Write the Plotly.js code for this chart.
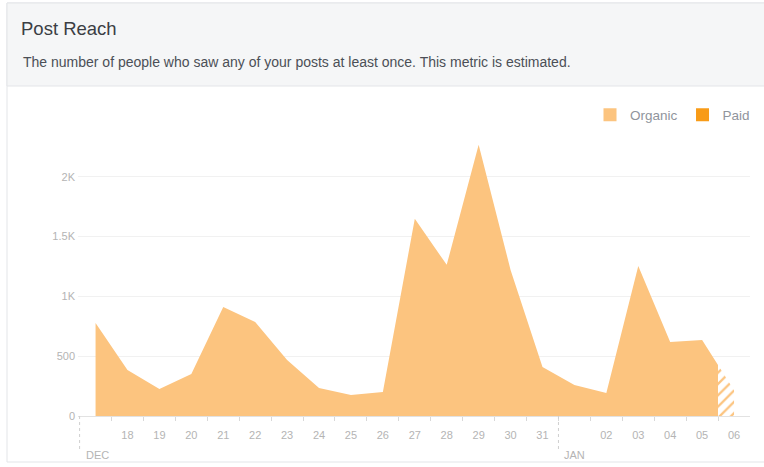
<!DOCTYPE html>
<html>
<head>
<meta charset="utf-8">
<script src="https://cdn.plot.ly/plotly-3.0.1.min.js"></script>
<style>
  html, body { margin: 0; padding: 0; background: #ffffff; }
  #chart { width: 764px; height: 467px; }
</style>
</head>
<body>
<div id="chart"></div>
<script>
// ---- data ----
var days = ['17','18','19','20','21','22','23','24','25','26','27','28','29','30','31',
            '01','02','03','04','05','06'];
var months = ['DEC', 'JAN'];
var organic = [778, 385, 226, 351, 912, 787, 469, 234, 176, 201, 1649, 1264, 2268, 1222, 410,
               259, 192, 1255, 619, 636, 215];
var paid = [0,0,0,0,0,0,0,0,0,0,0,0,0,0,0,0,0,0,0,0,0];
var yTickVals = [0, 500, 1000, 1500, 2000];
var yTickText = ['0', '500', '1K', '1.5K', '2K'];
var seriesNames = ['Organic', 'Paid'];

// ---- styles ----
var organicColor = '#fcc47f';
var paidColor = '#f89b17';
var tickFontColor = '#b4b4b4';
var fontFamily = 'Liberation Sans, Arial, sans-serif';

var idx = days.map(function (d, i) { return i; });
// month starts: first day, and every day labelled '01'
var monthStarts = idx.filter(function (i) { return i === 0 || days[i] === '01'; });
var labelIdx = idx.filter(function (i) { return monthStarts.indexOf(i) < 0 && i < days.length - 1; });
var boundaries = idx.slice(1).map(function (i) { return i - 0.5; });

var xMin = -0.55, xMax = days.length - 0.5;
var todayEdge = days.length - 1.5;          // start of the partial (estimated) last day
var split = (todayEdge - xMin) / (xMax - xMin);

var traces = [
  { x: idx, y: organic, xaxis: 'x', yaxis: 'y', type: 'scatter', mode: 'none',
    fill: 'tozeroy', fillcolor: organicColor, showlegend: false, hoverinfo: 'skip' },
  { x: idx, y: paid, xaxis: 'x', yaxis: 'y', type: 'scatter', mode: 'none',
    fill: 'tozeroy', fillcolor: paidColor, showlegend: false, hoverinfo: 'skip' },
  { x: idx, y: organic, xaxis: 'x2', yaxis: 'y', type: 'scatter', mode: 'none',
    fill: 'tozeroy', fillcolor: 'rgba(0,0,0,0)',
    fillpattern: { shape: '/', fgcolor: organicColor, bgcolor: '#ffffff', size: 8, solidity: 0.28 },
    showlegend: false, hoverinfo: 'skip' },
  { x: [null], y: [null], type: 'scatter', mode: 'markers', name: seriesNames[0],
    marker: { symbol: 'square', size: 13, color: organicColor } },
  { x: [null], y: [null], type: 'scatter', mode: 'markers', name: seriesNames[1],
    marker: { symbol: 'square', size: 13, color: paidColor } }
];

var ml = 78, mr = 14, mt = 135, mb = 51, W = 764, H = 467;
var pw = W - ml - mr, ph = H - mt - mb;
function px2x(px) { return (px - ml) / pw; }
function py2y(py) { return (H - mb - py) / ph; }

var shapes = [
  { type: 'rect', xref: 'paper', yref: 'paper', layer: 'below',
    x0: px2x(7), x1: px2x(775), y0: py2y(462), y1: py2y(3),
    fillcolor: '#ffffff', line: { color: '#e3e5e8', width: 1 } },
  { type: 'rect', xref: 'paper', yref: 'paper', layer: 'below',
    x0: px2x(7), x1: px2x(775), y0: py2y(86), y1: py2y(3),
    fillcolor: '#f5f6f7', line: { color: '#e3e5e8', width: 1 } }
];
var annotations = [
  { xref: 'paper', yref: 'paper', x: px2x(20.5), y: py2y(62), xanchor: 'left', yanchor: 'middle',
    showarrow: false, text: 'The number of people who saw any of your posts at least once. This metric is estimated.',
    font: { family: fontFamily, size: 14, color: '#4b4f56' } }
];
monthStarts.forEach(function (m, k) {
  shapes.push({ type: 'line', xref: 'x', yref: 'paper', x0: m - 0.5, x1: m - 0.5,
    y0: 0, y1: py2y(452), line: { color: '#cfcfcf', width: 1, dash: 'dot' } });
  annotations.push({ xref: 'x', yref: 'paper', x: m - 0.5, y: py2y(455), xanchor: 'left',
    yanchor: 'middle', xshift: 4, showarrow: false, text: months[k],
    font: { family: fontFamily, size: 11, color: tickFontColor } });
});

var layout = {
  width: W, height: H,
  margin: { l: ml, r: mr, t: mt, b: mb, pad: 0, autoexpand: false },
  paper_bgcolor: '#ffffff', plot_bgcolor: 'rgba(0,0,0,0)',
  font: { family: fontFamily },
  title: { text: 'Post Reach', xref: 'container', yref: 'container',
    x: 21 / W, xanchor: 'left', y: 1 - 29 / H, yanchor: 'middle',
    font: { family: fontFamily, size: 18.5, color: '#3b3e44' } },
  showlegend: true,
  legend: { orientation: 'h', xref: 'container', yref: 'container',
    x: 755 / W, xanchor: 'right', y: 1 - 115 / H, yanchor: 'middle',
    bgcolor: 'rgba(0,0,0,0)', font: { family: fontFamily, size: 13.5, color: '#90949c' },
    itemwidth: 30 },
  xaxis: { domain: [0, split], range: [xMin, todayEdge], type: 'linear',
    tickmode: 'array', tickvals: labelIdx, ticktext: labelIdx.map(function (i) { return days[i]; }),
    ticks: '', showgrid: false, zeroline: false, showline: true, linecolor: '#e2e2e2', linewidth: 1,
    ticklabelstandoff: 9, tickfont: { family: fontFamily, size: 11, color: tickFontColor },
    minor: { tickmode: 'array', tickvals: boundaries, ticks: 'outside', ticklen: 4,
      tickcolor: '#d8d8d8', tickwidth: 1, showgrid: false },
    fixedrange: true },
  xaxis2: { domain: [split, 1], range: [todayEdge, xMax], type: 'linear', anchor: 'y',
    tickmode: 'array', tickvals: [days.length - 1], ticktext: [days[days.length - 1]],
    ticks: '', showgrid: false, zeroline: false, showline: true, linecolor: '#e2e2e2', linewidth: 1,
    ticklabelstandoff: 9, tickfont: { family: fontFamily, size: 11, color: tickFontColor },
    fixedrange: true },
  yaxis: { range: [0, 2350], tickmode: 'array', tickvals: yTickVals, ticktext: yTickText,
    showgrid: true, gridcolor: '#f1f1f1', gridwidth: 1, zeroline: false, showline: false,
    ticks: '', ticklabelstandoff: 2, tickfont: { family: fontFamily, size: 11, color: tickFontColor },
    fixedrange: true },
  shapes: shapes,
  annotations: annotations
};

Plotly.newPlot('chart', traces, layout, { staticPlot: true, displayModeBar: false });
</script>
</body>
</html>
